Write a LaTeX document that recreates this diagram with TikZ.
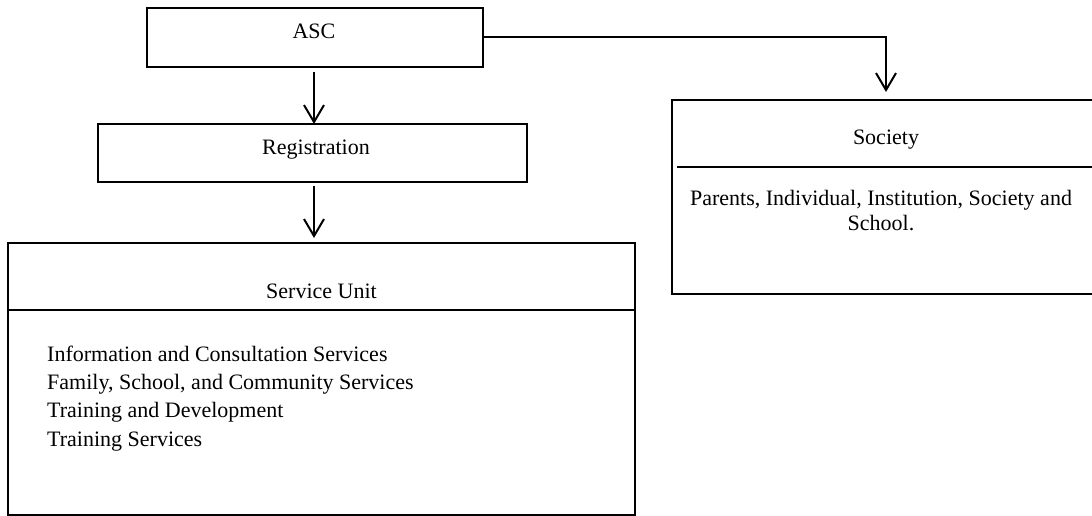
\documentclass[tikz,border=0pt]{standalone}
\usepackage{fontspec}
\setmainfont{Liberation Serif}
\usetikzlibrary{arrows.meta}
\begin{document}
\begin{tikzpicture}[x=1pt,y=-1pt,
  box/.style={draw, line width=1.3pt, inner sep=0pt, outer sep=0pt},
  divider/.style={line width=1.3pt},
  conn/.style={line width=2pt, -{Straight Barb[length=17pt,width=20pt,line width=2pt]}},
  lbl/.style={inner sep=0pt, font=\fontsize{22}{28}\selectfont},
]
\useasboundingbox (0,0) rectangle (1092,516);
% boxes
\node[box, minimum width=336pt, minimum height=59pt] (asc) at (315,37.5) {};
\node[box, minimum width=429pt, minimum height=58pt] (reg) at (312.5,153) {};
\node[box, minimum width=627pt, minimum height=272pt] (svc) at (321.5,379) {};
\node[box, minimum width=421pt, minimum height=194pt] (soc) at (882.5,197) {};
% dividers
\draw[divider] (svc.west |- 0,310) -- (svc.east |- 0,310);
\draw[divider] (677,167) -- (soc.east |- 0,167);
% texts
\node[lbl, anchor=base] (asct) at (314,39) {ASC};
\node[lbl, anchor=base] (regt) at (316,154) {Registration};
\node[lbl, anchor=base] (svct) at (321.5,298) {Service Unit};
\node[lbl, anchor=base west] (s1) at (47,361) {Information and Consultation Services};
\node[lbl, anchor=base west] (s2) at (47,389) {Family, School, and Community Services};
\node[lbl, anchor=base west] (s3) at (47,417) {Training and Development};
\node[lbl, anchor=base west] (s4) at (47,446) {Training Services};
\node[lbl, anchor=base] (soct) at (886,144) {Society};
\node[lbl, anchor=base] (socl1) at (881,205) {Parents, Individual, Institution, Society and};
\node[lbl, anchor=base] (socl2) at (881,230) {School.};
% connectors
\coordinate (corner) at (886,37);
\draw[conn] ([yshift=-5pt]asc.south -| 314,0) -- (314,0 |- reg.north);
\draw[conn] ([yshift=-4pt]reg.south -| 314,0) -- ([yshift=5pt]svc.north -| 314,0);
\draw[conn] (asc.east |- corner) -- (corner) -- ([yshift=8pt]soc.north -| corner);
\end{tikzpicture}
\end{document}
